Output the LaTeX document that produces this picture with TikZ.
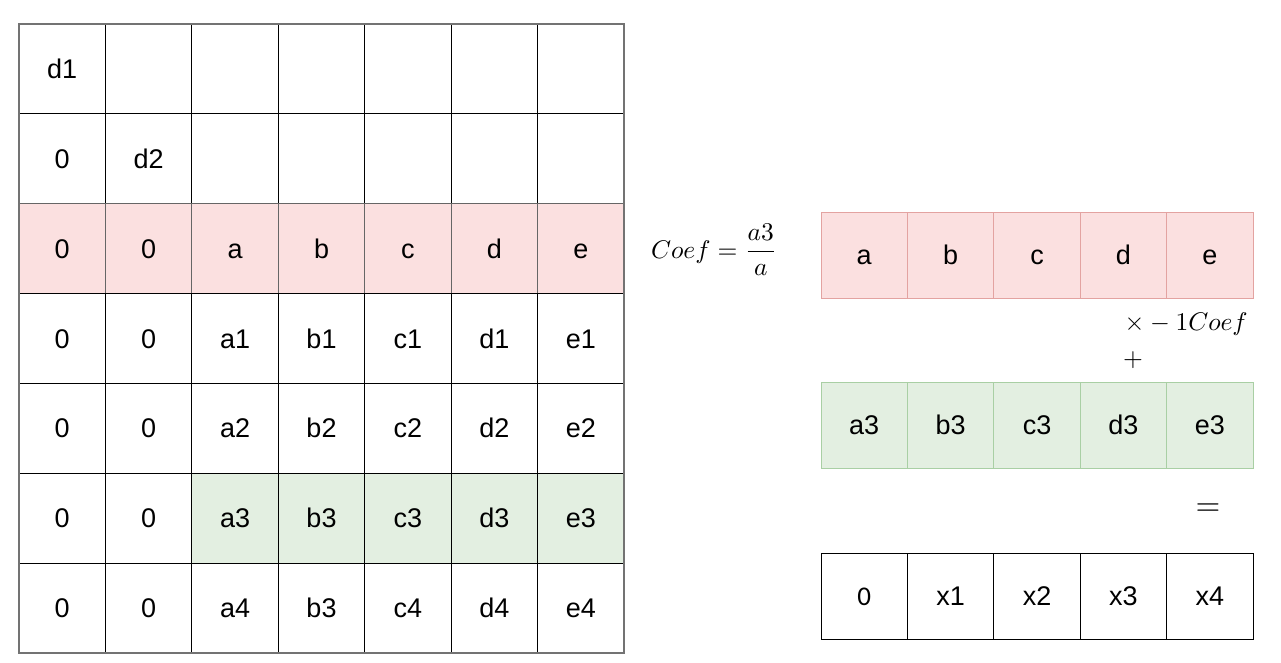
\documentclass[tikz,border=0pt]{standalone}
\usepackage{amsmath}
\usepackage{fontspec}
\setmainfont{Liberation Sans}
\newfontfamily\calfont{Carlito}
\definecolor{pinkfill}{HTML}{FBE0E0}
\definecolor{pinkline}{HTML}{E3A3A1}
\definecolor{greenfill}{HTML}{E3EFE1}
\definecolor{greenline}{HTML}{A9CFA4}
\begin{document}
\begin{tikzpicture}[x=1pt,y=-1pt,
  txt/.style={text height=19pt,text depth=0pt},
  cell/.style={draw=black,line width=0.9pt,minimum width=86.4pt,minimum height=89.8pt,inner sep=0pt,txt,font=\fontsize{27}{27}\selectfont},
  rcell/.style={draw,line width=0.9pt,minimum width=86.4pt,minimum height=86pt,inner sep=0pt,txt,font=\fontsize{27}{27}\selectfont},
  pinkc/.style={fill=pinkfill},
  greenc/.style={fill=greenfill},
  mathlbl/.style={inner sep=0pt,scale=2.55}]
\useasboundingbox (0,0) rectangle (1281,663);
% left grid
\foreach \r/\row in {0/{d1,,,,,,},1/{0,d2,,,,,},2/{0,0,a,b,c,d,e},3/{0,0,a1,b1,c1,d1,e1},4/{0,0,a2,b2,c2,d2,e2},5/{0,0,a3,b3,c3,d3,e3},6/{0,0,a4,b3,c4,d4,e4}}{
  \foreach \t [count=\c from 0] in \row {
    \pgfmathsetmacro{\cx}{19+86.43*(\c+0.5)}
    \pgfmathsetmacro{\cy}{24+89.86*(\r+0.5)}
    \ifnum\r=2
      \node[cell,pinkc,draw=black!60] (L-\r-\c) at (\cx,\cy) {\t};
    \else\ifnum\r=5 \ifnum\c>1
      \node[cell,greenc] (L-\r-\c) at (\cx,\cy) {\t};
    \else
      \node[cell] (L-\r-\c) at (\cx,\cy) {\t};
    \fi\else
      \node[cell] (L-\r-\c) at (\cx,\cy) {\t};
    \fi\fi
  }
}
\draw[black!55,line width=1.3pt] (19,24) rectangle (624,653);
% right rows
\foreach \t [count=\c from 0] in {a,b,c,d,e}{
  \node[rcell,pinkc,draw=pinkline] (P-\c) at ({821+86.4*(\c+0.5)},255) {\t};
}
\foreach \t [count=\c from 0] in {a3,b3,c3,d3,e3}{
  \node[rcell,greenc,draw=greenline] (G-\c) at ({821+86.4*(\c+0.5)},425) {\t};
}
\node[rcell,draw=black] (X-0) at ({821+86.4*0.5},596) {\calfont 0};
\foreach \t [count=\c from 1] in {x1,x2,x3,x4}{
  \node[rcell,draw=black] (X-\c) at ({821+86.4*(\c+0.5)},596) {\t};
}
% math labels
\node[mathlbl] (coef) at (714,250) {$Coef=\dfrac{a3}{a}$};
\node[mathlbl,anchor=west] (mult) at (1124,324) {$\times -1Coef$};
\node[mathlbl] (plus) at (1133,360) {$+$};
\node[mathlbl,scale=1.25] (eq) at (1208,510) {$=$};
\end{tikzpicture}
\end{document}
